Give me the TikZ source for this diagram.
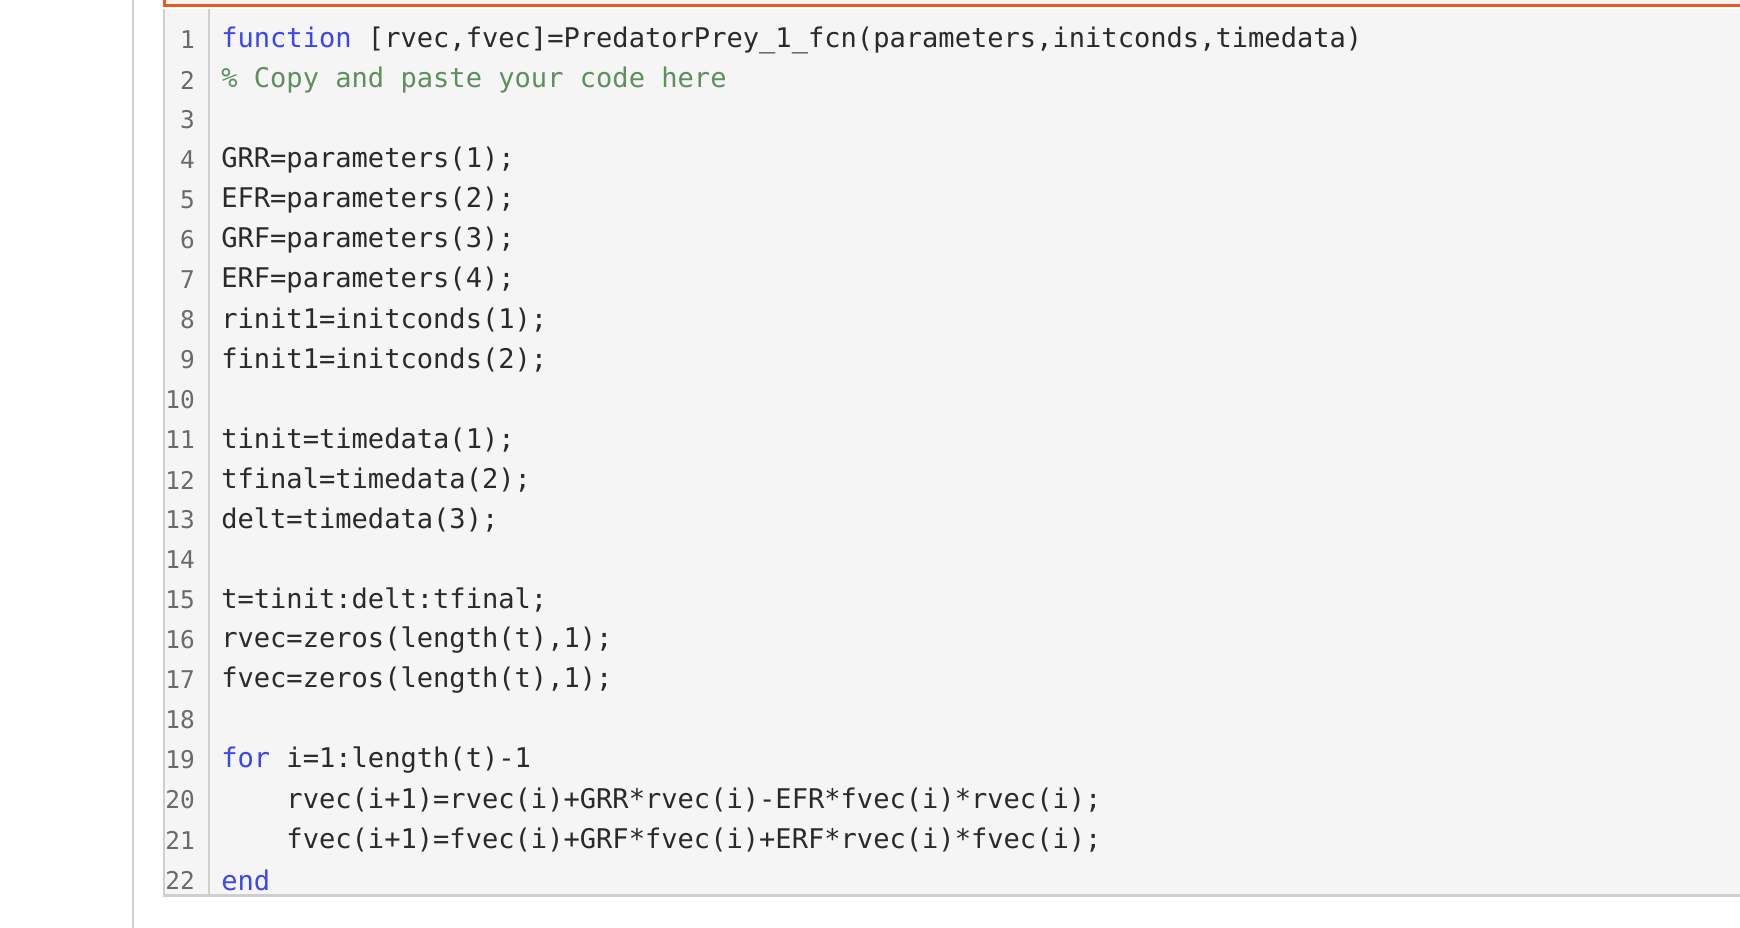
\documentclass[tikz,border=0pt]{standalone}
\usepackage{fontspec}
\setmonofont{DejaVu Sans Mono}
\definecolor{kw}{HTML}{3B45F5}
\definecolor{cm}{HTML}{5E8F5E}
\definecolor{tx}{HTML}{2A2A2A}
\definecolor{ln}{HTML}{6A6A6A}
\definecolor{bg}{HTML}{F5F5F5}
\definecolor{bd}{HTML}{CFCFCF}
\definecolor{orng}{HTML}{E55A22}
\begin{document}
\begin{tikzpicture}[x=0.5pt,y=-0.5pt,
  code/.style={anchor=west,inner sep=0,font=\ttfamily\fontsize{12.2}{14}\selectfont,text=tx},
  num/.style={anchor=east,inner sep=0,font=\ttfamily\fontsize{11}{14}\selectfont,text=ln}]
\useasboundingbox (0,0) rectangle (1568,836);
\fill[white] (0,0) rectangle (1568,836);
\draw[bd,line width=1pt] (120,0) -- (120,836);
\fill[orng!8] (148,0) rectangle (1568,5);
\fill[bg] (148,8) rectangle (1568,807);
\draw[orng,line width=1.2pt] (148,0) -- (148,5) -- (1568,5);
\draw[bd,line width=1pt] (148,8) -- (148,807) -- (1568,807);
\draw[bd,line width=1pt] (188,8) -- (188,807);
\foreach \i in {1,...,22} \node[num] (n\i) at (176,{36+36.05*(\i-1)}) {\i};
\def\L#1#2{\node[code] (c#1) at (199,{36+36.05*(#1-1)}) {#2};}
\L{1}{\textcolor{kw}{function} [rvec,fvec]=PredatorPrey\_1\_fcn(parameters,initconds,timedata)}
\L{2}{\textcolor{cm}{\% Copy and paste your code here}}
\L{4}{GRR=parameters(1);}
\L{5}{EFR=parameters(2);}
\L{6}{GRF=parameters(3);}
\L{7}{ERF=parameters(4);}
\L{8}{rinit1=initconds(1);}
\L{9}{finit1=initconds(2);}
\L{11}{tinit=timedata(1);}
\L{12}{tfinal=timedata(2);}
\L{13}{delt=timedata(3);}
\L{15}{t=tinit:delt:tfinal;}
\L{16}{rvec=zeros(length(t),1);}
\L{17}{fvec=zeros(length(t),1);}
\L{19}{\textcolor{kw}{for} i=1:length(t)-1}
\L{20}{\ \ \ \ rvec(i+1)=rvec(i)+GRR*rvec(i)-EFR*fvec(i)*rvec(i);}
\L{21}{\ \ \ \ fvec(i+1)=fvec(i)+GRF*fvec(i)+ERF*rvec(i)*fvec(i);}
\L{22}{\textcolor{kw}{end}}
\end{tikzpicture}
\end{document}
